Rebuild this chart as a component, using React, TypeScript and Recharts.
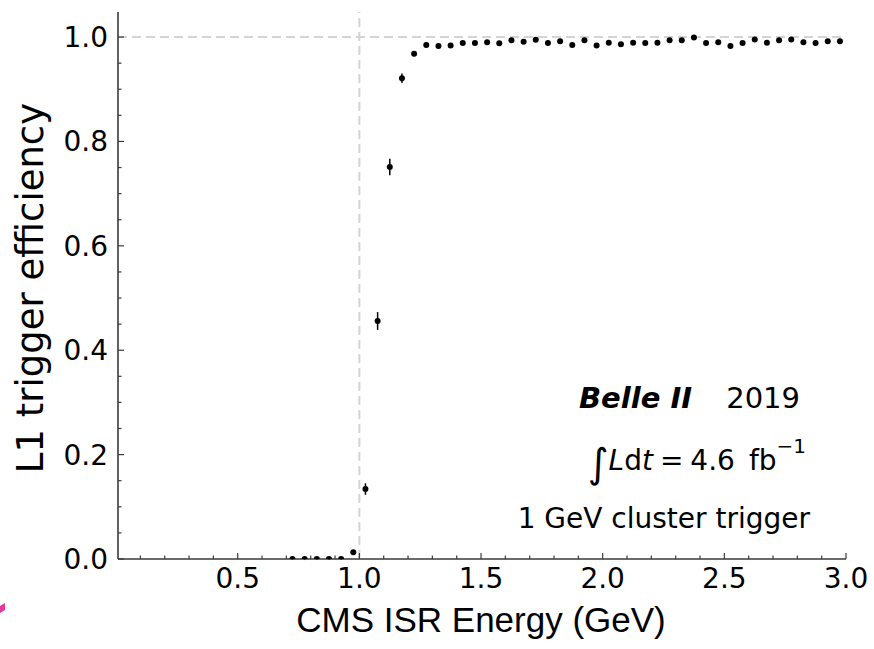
import { ErrorBar, ReferenceLine, Scatter, ScatterChart, XAxis, YAxis } from 'recharts';

// bin centres (GeV) and measured efficiency
const energy = [
  0.725, 0.775, 0.825, 0.875, 0.925, 0.975, 1.025, 1.075, 1.125, 1.175,
  1.225, 1.275, 1.325, 1.375, 1.425, 1.475, 1.525, 1.575, 1.625, 1.675,
  1.725, 1.775, 1.825, 1.875, 1.925, 1.975, 2.025, 2.075, 2.125, 2.175,
  2.225, 2.275, 2.325, 2.375, 2.425, 2.475, 2.525, 2.575, 2.625, 2.675,
  2.725, 2.775, 2.825, 2.875, 2.925, 2.975,
];
const efficiency = [
  0, 0, 0, 0, 0, 0.013, 0.134, 0.456, 0.751, 0.921,
  0.968, 0.985, 0.983, 0.984, 0.9885, 0.9885, 0.99, 0.988, 0.994, 0.991,
  0.995, 0.9885, 0.992, 0.985, 0.994, 0.984, 0.989, 0.986, 0.989, 0.9885,
  0.989, 0.994, 0.994, 0.999, 0.9885, 0.99, 0.983, 0.9885, 0.9955, 0.989,
  0.994, 0.9955, 0.99, 0.9885, 0.992, 0.992,
];
const errors = [
  0.002, 0.002, 0.002, 0.002, 0.002, 0.004, 0.011, 0.017, 0.016, 0.009,
  0.005, 0.003, 0.003, 0.003, 0.003, 0.003, 0.003, 0.003, 0.003, 0.003,
  0.003, 0.003, 0.003, 0.003, 0.003, 0.003, 0.003, 0.003, 0.003, 0.003,
  0.003, 0.003, 0.003, 0.003, 0.003, 0.003, 0.003, 0.003, 0.003, 0.003,
  0.003, 0.003, 0.003, 0.003, 0.003, 0.003,
];

const xTicks = [
  0.1, 0.2, 0.3, 0.4, 0.5, 0.6, 0.7, 0.8, 0.9, 1.0,
  1.1, 1.2, 1.3, 1.4, 1.5, 1.6, 1.7, 1.8, 1.9, 2.0,
  2.1, 2.2, 2.3, 2.4, 2.5, 2.6, 2.7, 2.8, 2.9, 3.0,
];
const yTicks = [
  0, 0.05, 0.1, 0.15, 0.2, 0.25, 0.3, 0.35, 0.4, 0.45, 0.5,
  0.55, 0.6, 0.65, 0.7, 0.75, 0.8, 0.85, 0.9, 0.95, 1.0,
];

const points = energy.map((e, i) => ({ energy: e, eff: efficiency[i], err: errors[i] }));

const FONT = '"DejaVu Sans", sans-serif';
const AXIS = '#3a3a3a';
const isMajorX = (v: number) => Math.abs(v * 2 - Math.round(v * 2)) < 1e-6;
const isMajorY = (v: number) => Math.abs(v * 5 - Math.round(v * 5)) < 1e-6;

const BottomTick = (p: any) => {
  const v = p.payload.value;
  const major = isMajorX(v);
  return (
    <g>
      <line x1={p.x} x2={p.x} y1={p.y} y2={p.y - (major ? 6 : 3.5)} stroke={AXIS} strokeWidth={1.2} />
      {major && (
        <text x={p.x} y={p.y + 29} textAnchor="middle" fontSize={28} fontFamily={FONT} fill="#000">
          {v.toFixed(1)}
        </text>
      )}
    </g>
  );
};

const TopTick = (p: any) => {
  const major = isMajorX(p.payload.value);
  return <line x1={p.x} x2={p.x} y1={p.y} y2={p.y + (major ? 6 : 3.5)} stroke={AXIS} strokeWidth={1.2} />;
};

const LeftTick = (p: any) => {
  const v = p.payload.value;
  const major = isMajorY(v);
  return (
    <g>
      <line x1={p.x} x2={p.x + (major ? 6 : 3.5)} y1={p.y} y2={p.y} stroke={AXIS} strokeWidth={1.2} />
      {major && (
        <text x={p.x - 10} y={p.y + 10} textAnchor="end" fontSize={28} fontFamily={FONT} fill="#000">
          {v.toFixed(1)}
        </text>
      )}
    </g>
  );
};

const RightTick = (p: any) => {
  const major = isMajorY(p.payload.value);
  return <line x1={p.x} x2={p.x - (major ? 6 : 3.5)} y1={p.y} y2={p.y} stroke={AXIS} strokeWidth={1.2} />;
};

const Dot = (p: any) => <circle cx={p.cx} cy={p.cy} r={3} fill="#000" />;

export default function App() {
  return (
    <div style={{ position: 'absolute', left: 0, top: 0, width: 874, height: 649, background: '#fff' }}>
      <ScatterChart width={874} height={649} margin={{ top: 12, right: 28, left: 0, bottom: 0 }}>
        <XAxis
          xAxisId="b"
          type="number"
          dataKey="energy"
          domain={[0.008, 3]}
          allowDataOverflow
          ticks={xTicks}
          interval={0}
          tickSize={0}
          tickMargin={0}
          tickLine={false}
          tick={BottomTick}
          axisLine={{ stroke: AXIS, strokeWidth: 1.6 }}
          height={90}
        />
        <XAxis
          xAxisId="t"
          orientation="top"
          type="number"
          domain={[0.008, 3]}
          allowDataOverflow
          ticks={xTicks}
          interval={0}
          tickSize={0}
          tickMargin={0}
          tickLine={false}
          tick={TopTick}
          axisLine={{ stroke: AXIS, strokeWidth: 1.6 }}
          height={0}
        />
        <YAxis
          yAxisId="l"
          type="number"
          dataKey="eff"
          domain={[0, 1.048]}
          allowDataOverflow
          ticks={yTicks}
          interval={0}
          tickSize={0}
          tickMargin={0}
          tickLine={false}
          tick={LeftTick}
          axisLine={{ stroke: AXIS, strokeWidth: 1.6 }}
          width={118}
        />
        <YAxis
          yAxisId="r"
          orientation="right"
          type="number"
          domain={[0, 1.048]}
          allowDataOverflow
          ticks={yTicks}
          interval={0}
          tickSize={0}
          tickMargin={0}
          tickLine={false}
          tick={RightTick}
          axisLine={{ stroke: AXIS, strokeWidth: 1.6 }}
          width={0}
        />
        <ReferenceLine xAxisId="b" yAxisId="l" x={1} stroke="#d4d4d4" strokeWidth={2} strokeDasharray="9 5" />
        <ReferenceLine xAxisId="b" yAxisId="l" y={1} stroke="#d4d4d4" strokeWidth={2} strokeDasharray="9 5" />
        <Scatter xAxisId="b" yAxisId="l" data={points} shape={Dot} isAnimationActive={false}>
          <ErrorBar dataKey="err" direction="y" width={0} stroke="#000" strokeWidth={1.5} isAnimationActive={false} />
        </Scatter>
      </ScatterChart>
      <svg width={874} height={649} style={{ position: 'absolute', left: 0, top: 0, pointerEvents: 'none' }}>
        <text
          transform="translate(43, 288) rotate(-90)"
          textAnchor="middle"
          fontSize={37}
          fontFamily={FONT}
          fill="#000"
        >
          L1 trigger efficiency
        </text>
        <text x={481} y={632} textAnchor="middle" fontSize={35} fontFamily='"Liberation Sans", Arial, sans-serif' fill="#000">
          CMS ISR Energy (GeV)
        </text>
        <text x={579} y={408} fontSize={29} fontFamily={FONT} fontWeight="bold" fontStyle="italic" fill="#000">
          Belle II
        </text>
        <text x={800} y={408} textAnchor="end" fontSize={29} fontFamily={FONT} fill="#000">
          2019
        </text>
        <text x={806} y={470} textAnchor="end" fontSize={28} fontFamily={FONT} fill="#000">
          <tspan fontSize={40} dy={7}>∫</tspan>
          <tspan fontStyle="italic" dy={-7}>L</tspan>
          <tspan>d</tspan>
          <tspan fontStyle="italic">t</tspan>
          <tspan>{'\u2005=\u20054.6\u2002fb'}</tspan>
          <tspan fontSize={20} dy={-17}>−1</tspan>
        </text>
        <text x={810} y={528} textAnchor="end" fontSize={28} fontFamily={FONT} fill="#000">
          1 GeV cluster trigger
        </text>
        <polygon points="0,606 5,603 5,610 0,613" fill="#e3389c" />
      </svg>
    </div>
  );
}
